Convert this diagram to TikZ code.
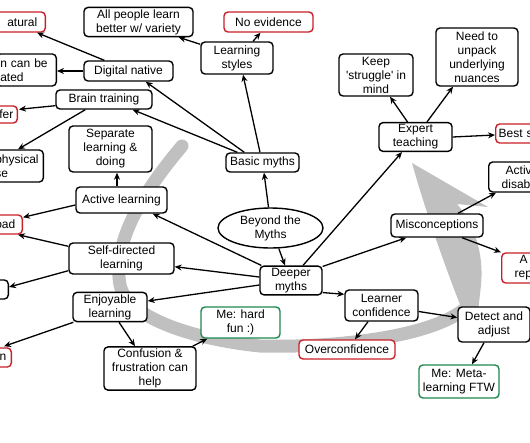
\documentclass[tikz,border=0pt]{standalone}
\usepackage{fontspec}
\setmainfont{Liberation Sans}[Ligatures=TeXOff]
\usetikzlibrary{arrows.meta,calc,shapes.geometric}
\definecolor{boxred}{RGB}{200,32,40}
\definecolor{boxgreen}{RGB}{30,135,80}
\definecolor{arcgray}{RGB}{192,192,192}
\tikzset{
  bx/.style={draw=black, line width=1.4pt, rounded corners=4pt, fill=white, align=center,
             inner sep=2pt, font=\fontsize{12}{14}\selectfont},
  rbx/.style={bx, draw=boxred},
  gbx/.style={bx, draw=boxgreen},
  ell/.style={draw=black, line width=1.4pt, fill=white, ellipse, align=center, inner sep=0pt,
             font=\fontsize{12}{14}\selectfont},
  arr/.style={-{Stealth[length=7pt,width=6pt]}, line width=1.3pt},
  arcband/.style={arcgray, line width=13pt, line cap=round},
}
\begin{document}
\begin{tikzpicture}[x=1pt,y=-1pt]
\useasboundingbox (0,0) rectangle (530,442);
\clip (0,0) rectangle (530,442);
% gray arc
\fill[arcgray] (412,163) -- (488,207) -- (457,204) .. controls (475,225) and (484,255) .. (481,285) -- (478,312) -- (463,312) .. controls (448,275) and (425,210) .. (412,163) -- cycle;
\draw[arcband] (182,146) .. controls (145,190) and (112,240) .. (120,285) .. controls (128,320) and (200,340) .. (260,346) .. controls (330,348) and (440,338) .. (471,303);
% nodes
\node[rbx, anchor=east, minimum height=20, text width=60, align=right, inner xsep=8] (natural) at (46,22) {atural};
\node[bx, minimum width=109, minimum height=28] (allp) at (138.5,22) {All people learn\\better w/ variety};
\node[rbx, minimum width=89, minimum height=20] (noev) at (268.5,22) {No evidence};
\node[bx, minimum width=72, minimum height=32] (ls) at (237,58) {Learning\\styles};
\node[bx, anchor=east, minimum height=32, text width=52, align=left, inner xsep=4] (ncan) at (57,70) {n can be\\ated};
\node[bx, minimum width=89, minimum height=20] (digital) at (128.5,71) {Digital native};
\node[bx, minimum width=96, minimum height=19] (brain) at (104,99.5) {Brain training};
\node[rbx, anchor=east, minimum height=17, text width=30, align=right, inner xsep=4] (fer) at (18,114.5) {fer};
\node[bx, minimum width=83, minimum height=46] (sep) at (110.5,149) {Separate\\learning \&\\doing};
\node[bx, anchor=east, minimum height=32, text width=44, align=left, inner xsep=4] (phys) at (44,166) {physical\\se};
\node[bx, minimum width=91, minimum height=26] (active) at (121.5,200) {Active learning};
\node[rbx, anchor=east, minimum height=19, text width=30, align=right, inner xsep=7] (oad) at (23,224.5) {oad};
\node[bx, minimum width=105, minimum height=31] (sd) at (121.5,258.5) {Self-directed\\learning};
\node[bx, anchor=east, minimum height=19, minimum width=30] (emptyb) at (9,289.5) {};
\node[bx, minimum width=74, minimum height=28] (enj) at (110,307) {Enjoyable\\learning};
\node[rbx, anchor=east, minimum height=19, text width=20, align=right, inner xsep=5] (nbox) at (12,357.5) {n};
\node[bx, minimum width=92, minimum height=41] (conf) at (150,368.5) {Confusion \&\\frustration can\\help};
\node[gbx, minimum width=79, minimum height=31] (mehard) at (240.5,322.5) {Me: hard\\fun :)};
\node[bx, minimum width=62, minimum height=27] (deeper) at (291,280.5) {Deeper\\myths};
\node[bx, minimum width=73, minimum height=31] (learner) at (381.5,305.5) {Learner\\confidence};
\node[rbx, minimum width=96, minimum height=19] (over) at (347,349.5) {Overconfidence};
\node[bx, minimum width=72, minimum height=35] (detect) at (494,324.5) {Detect and\\adjust};
\node[gbx, minimum width=80, minimum height=33] (meta) at (459,381.5) {Me: Meta-\\learning FTW};
\node[bx, minimum width=73, minimum height=19] (basic) at (262.5,162.5) {Basic myths};
\node[ell, minimum width=105, minimum height=40] (beyond) at (270.5,228) {Beyond the\\Myths};
\node[bx, minimum width=73, minimum height=28] (expert) at (415.5,137) {Expert\\teaching};
\node[rbx, anchor=west, minimum height=19, text width=50, align=left, inner xsep=3] (best) at (495,133.5) {Best s};
\node[bx, minimum width=74, minimum height=42] (keep) at (376,75) {Keep\\'struggle' in\\mind};
\node[bx, minimum width=82, minimum height=58] (need) at (477,57) {Need to\\unpack\\underlying\\nuances};
\node[bx, minimum width=92, minimum height=23] (misc) at (437,225.5) {Misconceptions};
\node[bx, anchor=west, minimum height=30, text width=50, align=left, inner xsep=13] (activ) at (488,177) {\hspace*{4pt}Activ\\disab};
\node[rbx, anchor=west, minimum height=30, text width=50, align=left, inner xsep=13] (arep) at (501,268) {\hspace*{5pt}A\\rep};
% edges
\draw[arr] ($(digital.north west)+(21,0)$) -- ($(natural.south east)+(-9,0)$);
\draw[arr] (digital.west) -- (digital.west -| ncan.east);
\draw[arr] ($(ls.north west)+(0,3)$) -- ($(allp.south east)+(-15,0)$);
\draw[arr] ($(ls.north)+(16,0)$) -- ($(noev.south)+(-8,0)$);
\draw[arr] ($(basic.north)+(-2.5,0)$) -- ($(ls.south)+(6,0)$);
\draw[arr] ($(basic.north west)+(19,0)$) -- ($(digital.south east)+(-28,0)$);
\draw[arr] ($(basic.north west)+(12,0)$) -- ($(brain.south east)+(-20,0)$);
\draw[arr] ($(brain.south west)+(0,-4)$) -- ($(fer.north east)+(1,4)$);
\draw[arr] ($(brain.south west)+(30,0)$) -- ($(phys.north east)+(-26,0)$);
\draw[arr] ($(active.north)+(-4.5,0)$) -- ($(sep.south)+(6.5,0)$);
\draw[arr] ($(active.west)+(0,5)$) -- ($(oad.north east)+(0,3)$);
\draw[arr] ($(deeper.north west)+(2,0)$) -- ($(active.south east)+(-15,0)$);
\draw[arr] ($(sd.north west)+(0,4)$) -- ($(oad.south east)+(-5,0)$);
\draw[arr] ($(sd.south west)+(0,-4)$) -- ($(emptyb.east)+(0,-2.5)$);
\draw[arr] ($(deeper.west)+(0,-3.5)$) -- ($(sd.south east)+(0,-8)$);
\draw[arr] ($(deeper.west)+(0,4.5)$) -- ($(enj.east)+(0,-6)$);
\draw[arr] ($(enj.south west)+(1,0)$) -- ($(nbox.north east)+(-8,-1)$);
\draw[arr] ($(enj.south)+(9,0)$) -- ($(conf.north)+(-15,0)$);
\draw[arr] ($(conf.north east)+(-4,0)$) -- ($(mehard.south west)+(7,0)$);
\draw[arr] ($(beyond.north)+(-2,0)$) -- ($(basic.south)+(1.5,0)$);
\draw[arr] (beyond.-68) -- ($(deeper.north)+(-6,0)$);
\draw[arr] ($(deeper.north)+(12,0)$) -- ($(expert.south)+(-13.5,0)$);
\draw[arr] ($(deeper.north east)+(0,1)$) -- ($(misc.south west)+(16,0)$);
\draw[arr] ($(deeper.south east)+(0,-3)$) -- ($(learner.north west)+(0,5)$);
\draw[arr] ($(learner.south)+(-13.5,0)$) -- ($(over.north)+(8,0)$);
\draw[arr] ($(learner.east)+(0,6)$) -- ($(detect.west)+(0,-7)$);
\draw[arr] ($(detect.south)+(-10,0)$) -- ($(meta.north)+(13,0)$);
\draw[arr] ($(expert.north)+(-8,0)$) -- ($(keep.south)+(14,0)$);
\draw[arr] ($(expert.north)+(11.5,0)$) -- ($(need.south)+(-24,0)$);
\draw[arr] (expert.east) -- ($(best.west)+(0,1.5)$);
\draw[arr] ($(misc.north)+(21,0)$) -- ($(activ.south west)+(8,0)$);
\draw[arr] ($(misc.south)+(25,0)$) -- (arep.north west);
\end{tikzpicture}
\end{document}
